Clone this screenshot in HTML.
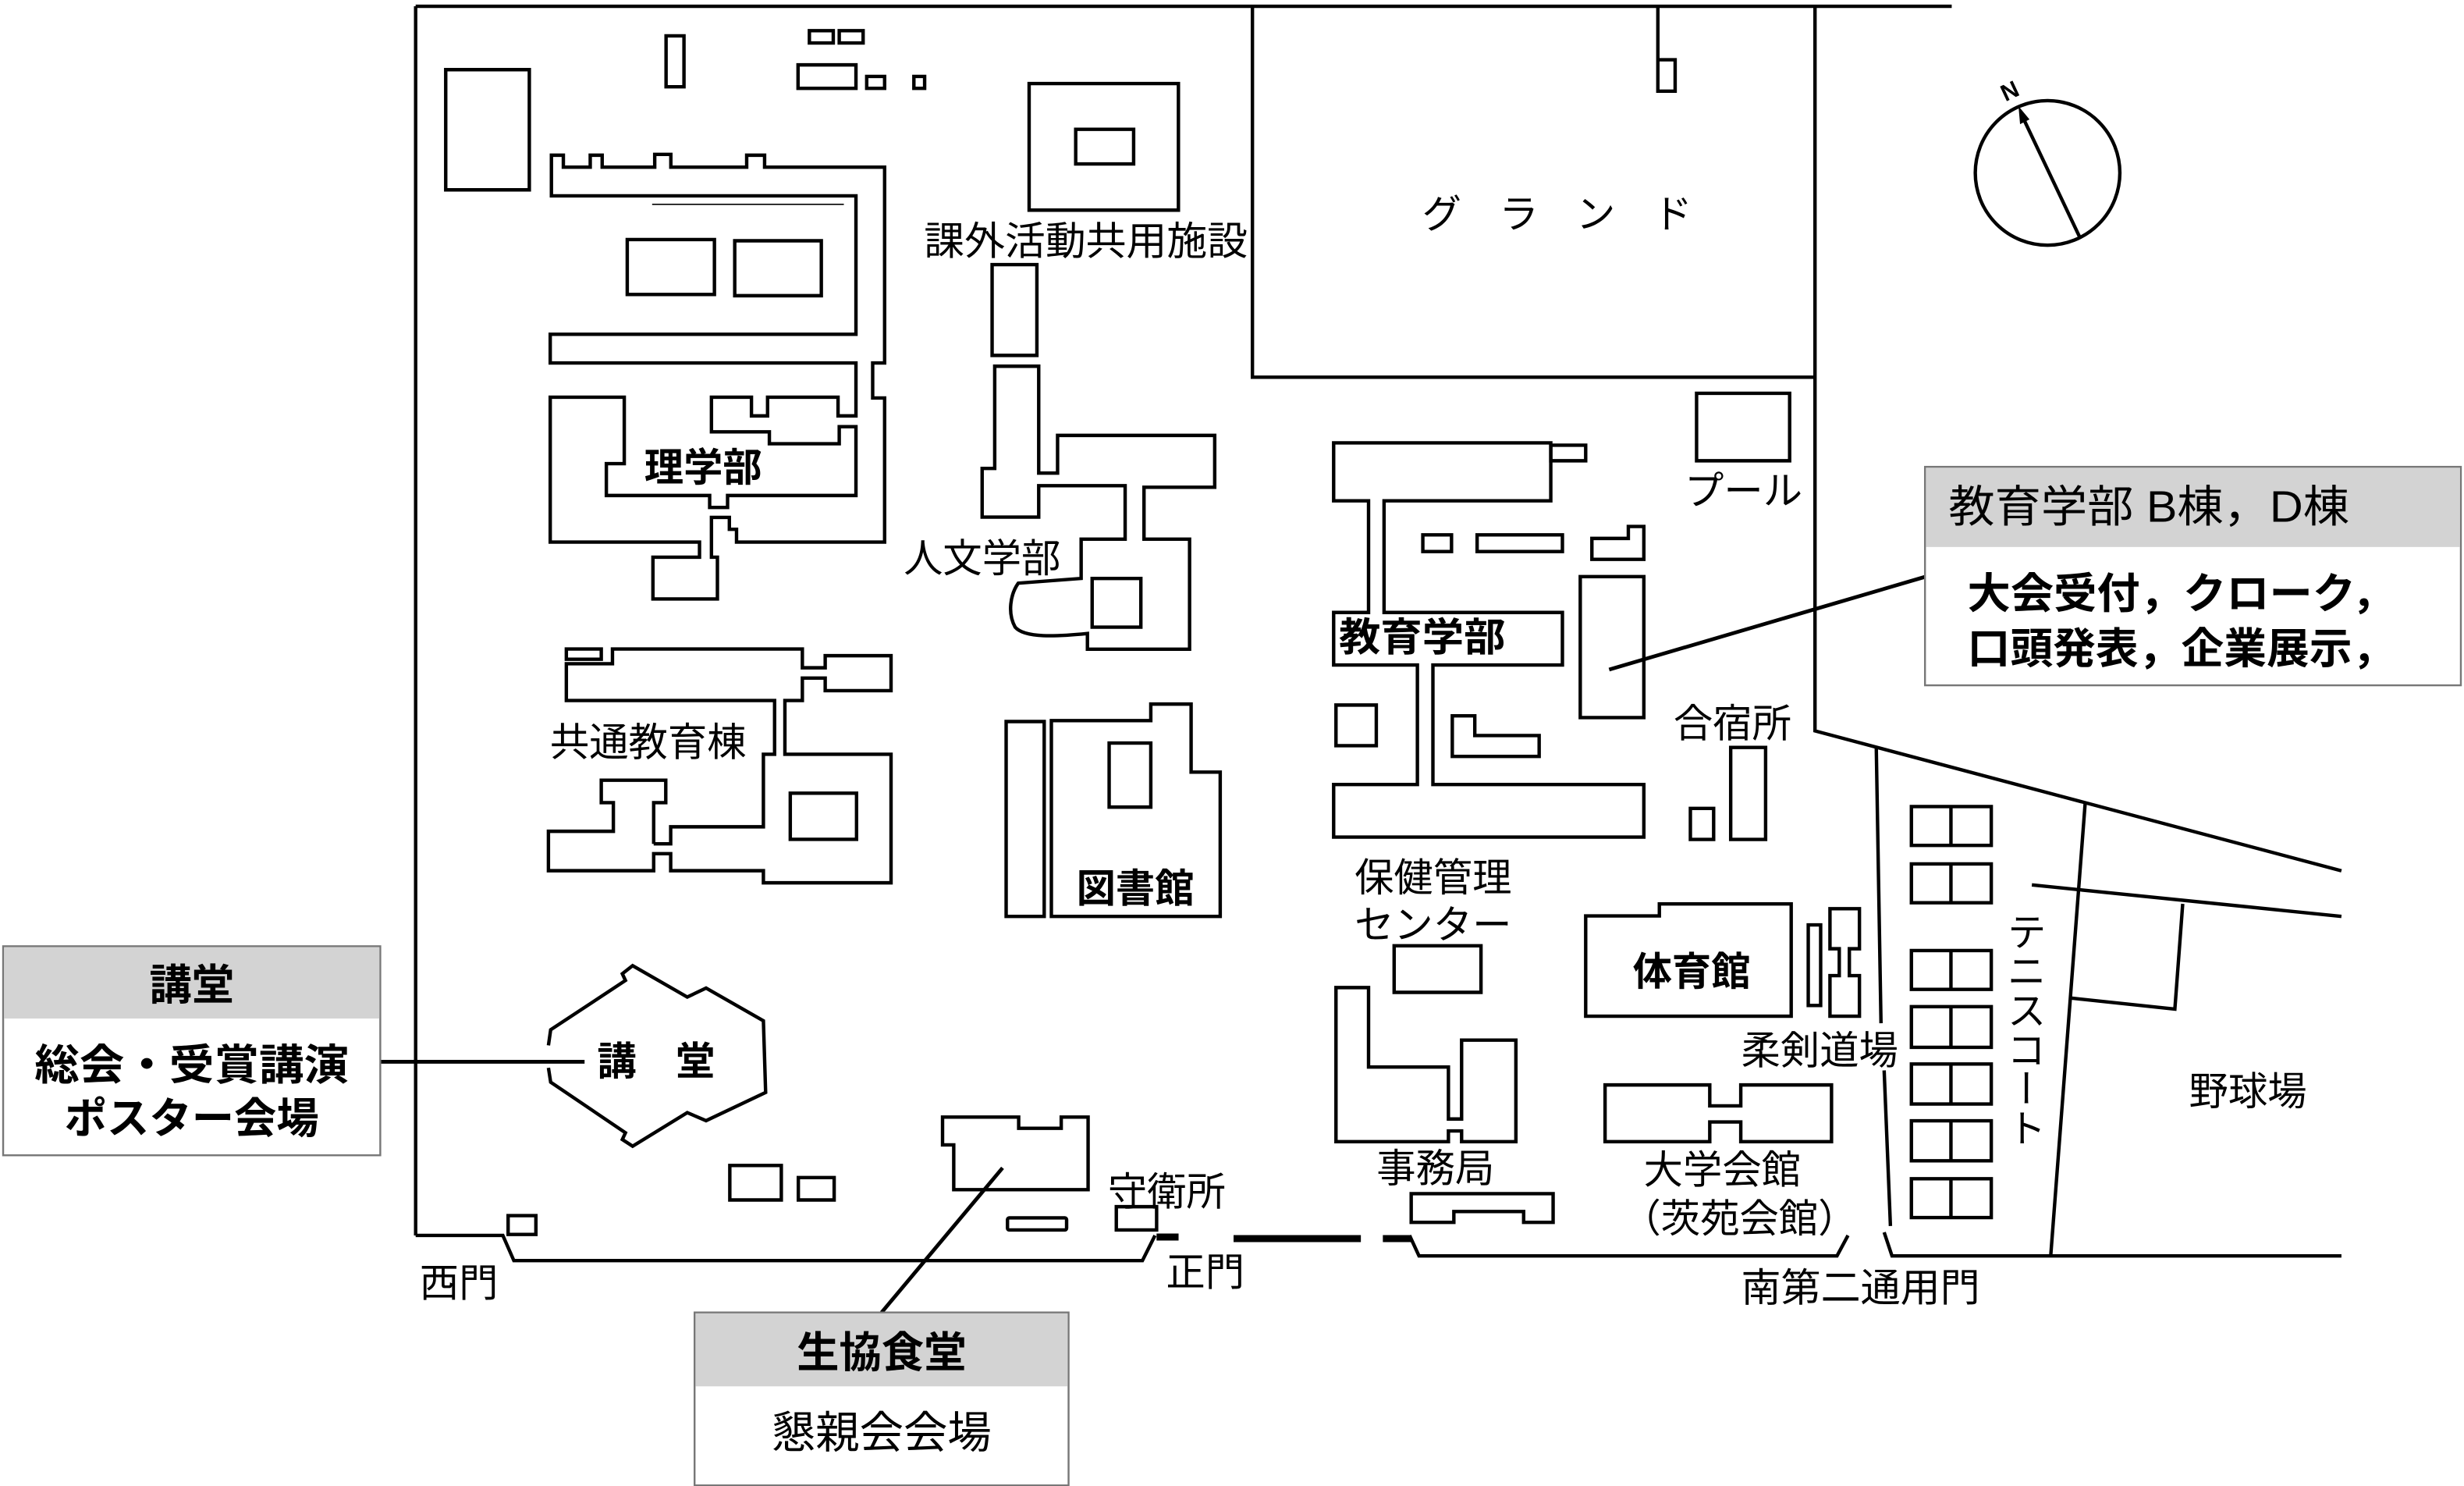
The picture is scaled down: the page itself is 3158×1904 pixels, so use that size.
<!DOCTYPE html>
<html><head><meta charset="utf-8"><style>
html,body{margin:0;padding:0;background:#fff;}
svg{display:block;}
text{font-family:"Liberation Sans","Noto Sans CJK JP",sans-serif;fill:#000;}
.b path,.b rect,.b line,.b polyline,.b polygon,.b circle{fill:none;stroke:#000;stroke-width:4.4;vector-effect:non-scaling-stroke;stroke-linejoin:miter;}
</style></head><body>
<svg width="3158" height="1904" viewBox="0 0 1568 945.4" preserveAspectRatio="none" xmlns="http://www.w3.org/2000/svg">
<rect x="0" y="0" width="1568" height="946" fill="#fff"/>
<g class="b">
<path d="M264.5,4 V786"/>
<path d="M264.5,4 H1242"/>
<path d="M797,4 V240 H1155"/>
<path d="M1155,4 V465 L1490,554"/>
<path d="M1293,563 L1490,583"/>
<path d="M1194,476 L1197,651 M1199,681 L1203,780"/>
<path d="M1327,510 L1305,799"/>
<path d="M1389,575 L1384,642 L1318,635"/>
<path d="M1199,784 L1204,799 H1490"/>
<path d="M1055,4 V58 H1066 V38 H1055"/>
<path d="M264.5,786 H320 L327,802 H727 L735,786"/>
<path d="M897,786 L903,799 H1169 L1176,786"/>
</g>
<g stroke="#000" stroke-width="4.5" fill="none">
<line x1="736" y1="787" x2="750" y2="787"/>
<line x1="785" y1="788" x2="866" y2="788"/>
<line x1="880" y1="788" x2="898" y2="788"/>
</g>

<g class="b" transform="translate(248.3,0) scale(0.38,0.2532)">
<rect x="93" y="175" width="140" height="302"/>
<rect x="462" y="90" width="30" height="128"/>
<rect x="702" y="77" width="40" height="31"/>
<rect x="752" y="77" width="40" height="31"/>
<rect x="683" y="163" width="97" height="59"/>
<rect x="798" y="192" width="30" height="30"/>
<rect x="877" y="192" width="18" height="30"/>
<rect x="1070" y="210" width="250" height="318"/>
<rect x="1148" y="325" width="97" height="87"/>
<rect x="1008" y="665" width="75" height="228"/>
<rect x="397" y="602" width="146" height="138"/>
<rect x="577" y="605" width="145" height="138"/>
<path d="M270,390 H290 V420 H335 V390 H355 V420 H443 V388 H470 V420 H597 V390 H627 V420 H828 V912 H808 V1000 H828 V1362 H580 V1330 H568 V1300 H538 V1400 H548 V1505 H440 V1400 H518 V1362 H268 V998 H392 V1165 H362 V1245 H535 V1275 H565 V1245 H780 V1072 H752 V1115 H635 V1085 H538 V998 H605 V1045 H632 V998 H750 V1045 H780 V912 H268 V840 H780 V492 H270 Z"/>
</g>
<line x1="415" y1="130" x2="537" y2="130" stroke="#000" stroke-width="0.8"/>

<g class="b">
<path d="M633,233 H661 V301 H673 V277 H773 V310 H728 V343 H757 V413 H692 V403 C672,405 652,406 646,399 C641,390 643,378 648,371 L688,368 V343 H716 V309 H661 V329 H625 V298 H633 Z"/>
<rect x="695" y="368" width="31" height="31"/>
</g>

<g class="b" transform="translate(337.6,397.2) scale(0.285)">
<path d="M275,490 H313 V452 H520 V290 H545 V170 H80 V88 H183 V55 H607 V97 H658 V70 H805 V148 H658 V120 H607 V170 H568 V290 H805 V577 H520 V550 H313 V512 H275 V550 H40 V462 H185 V398 H158 V348 H302 V398 H275 V490"/>
<rect x="80" y="55" width="78" height="23"/>
<rect x="580" y="377" width="148" height="103"/>
<rect x="1062" y="217" width="85" height="435"/>
<path d="M1163,215 H1385 V178 H1475 V330 H1540 V652 H1163 Z"/>
<rect x="1292" y="265" width="93" height="143"/>
<path d="M40,940 L45,905 L212,795 L205,780 L228,762 L350,832 L392,812 L520,885 L525,1045 L392,1108 L350,1090 L228,1165 L205,1150 L212,1135 L45,1022 L40,990"/>
<path d="M920,1100 H1090 V1125 H1185 V1100 H1245 V1262 H945 V1162 H920 Z"/>
<rect x="1308" y="1300" width="90" height="52"/>
<rect x="1065" y="1325" width="132" height="27" rx="4"/>
<rect x="445" y="1208" width="115" height="77"/>
<rect x="598" y="1235" width="80" height="50"/>
<rect x="-50" y="1320" width="62" height="42"/>
</g>

<g class="b" transform="translate(794.4,248.3) scale(0.4935,0.38)">
<rect x="578" y="5" width="120" height="113"/>
<path d="M110,88 H390 V185 H175 V372 H405 V460 H238 V660 H510 V748 H110 V660 H218 V460 H110 V372 H155 V185 H110 Z"/>
<rect x="390" y="92" width="45" height="26"/>
<rect x="225" y="242" width="37" height="28"/>
<rect x="295" y="242" width="110" height="28"/>
<path d="M443,248 H490 V228 H510 V283 H443 Z"/>
<rect x="428" y="312" width="82" height="236"/>
<rect x="113" y="527" width="52" height="68"/>
<path d="M263,545 H292 V578 H375 V613 H263 Z"/>
<rect x="622" y="598" width="45" height="154"/>
<rect x="570" y="700" width="30" height="52"/>
<path d="M435,880 H530 V860 H700 V1048 H435 Z"/>
<rect x="722" y="895" width="16" height="135"/>
<path d="M750,868 H788 V935 H775 V980 H788 V1048 H750 V980 H762 V935 H750 Z"/>
<rect x="188" y="930" width="112" height="78"/>
<path d="M113,1000 H155 V1133 H258 V1220 H275 V1088 H345 V1258 H275 V1240 H258 V1258 H113 Z"/>
<path d="M210,1345 H393 V1393 H355 V1375 H265 V1393 H210 Z"/>
<path d="M460,1163 H595 V1198 H635 V1163 H752 V1258 H635 V1225 H595 V1258 H460 Z"/>
<g>
<rect x="855" y="697" width="103" height="65"/><line x1="906" y1="697" x2="906" y2="762"/>
<rect x="855" y="793" width="103" height="65"/><line x1="906" y1="793" x2="906" y2="858"/>
<rect x="855" y="938" width="103" height="65"/><line x1="906" y1="938" x2="906" y2="1003"/>
<rect x="855" y="1032" width="103" height="68"/><line x1="906" y1="1032" x2="906" y2="1100"/>
<rect x="855" y="1128" width="103" height="67"/><line x1="906" y1="1128" x2="906" y2="1195"/>
<rect x="855" y="1223" width="103" height="67"/><line x1="906" y1="1223" x2="906" y2="1290"/>
<rect x="855" y="1320" width="103" height="65"/><line x1="906" y1="1320" x2="906" y2="1385"/>
</g>
</g>

<g class="b">
<circle cx="1303" cy="110" r="46"/>
<line x1="1286" y1="72" x2="1324" y2="152"/>
</g>
<polygon points="1284.5,67.5 1285.5,79 1291.5,76" fill="#000"/>
<text x="1279" y="63" font-size="15" font-weight="bold" transform="rotate(-25 1279 58)" text-anchor="middle">N</text>

<g font-size="25">
<text x="588" y="162" textLength="206" lengthAdjust="spacingAndGlyphs">課外活動共用施設</text>
<text x="905" y="145" letter-spacing="24">グランド</text>
<text x="410" y="306" font-weight="bold">理学部</text>
<text x="575" y="364">人文学部</text>
<text x="350" y="481">共通教育棟</text>
<text x="685" y="574" font-weight="bold">図書館</text>
<text x="1072" y="321">プール</text>
<text x="852" y="414" font-weight="bold" textLength="106" lengthAdjust="spacingAndGlyphs">教育学部</text>
<text x="1065" y="469">合宿所</text>
<text x="862" y="567">保健管理</text>
<text x="862" y="597">センター</text>
<text x="1039" y="627" font-weight="bold">体育館</text>
<text x="1108" y="677">柔剣道場</text>
<text x="876" y="752">事務局</text>
<text x="1046" y="753">大学会館</text>
<text x="1032" y="784">（茨苑会館）</text>
<text x="1108" y="828" textLength="152" lengthAdjust="spacingAndGlyphs">南第二通用門</text>
<text x="1393" y="703">野球場</text>
<text x="380" y="684" font-weight="bold" letter-spacing="25">講堂</text>
<text x="705" y="767">守衛所</text>
<text x="267" y="825">西門</text>
<text x="742" y="818">正門</text>
<text x="1288" y="580" style="writing-mode:vertical-rl" letter-spacing="0">テニスコート</text>
</g>

<g stroke="#000" stroke-width="2.4">
<line x1="242" y1="675.5" x2="372" y2="675.5"/>
<line x1="638" y1="743" x2="561" y2="835"/>
<line x1="1225" y1="367" x2="1024" y2="426"/>
</g>

<g>
<rect x="2" y="602" width="240" height="133" fill="#fff" stroke="#777" stroke-width="1.2"/>
<rect x="2.6" y="602.6" width="238.8" height="45.4" fill="#d3d3d3"/>
<text x="122" y="636" font-size="27" font-weight="bold" text-anchor="middle">講堂</text>
<text x="122" y="687" font-size="27" font-weight="bold" text-anchor="middle" textLength="200" lengthAdjust="spacingAndGlyphs">総会・受賞講演</text>
<text x="122" y="721" font-size="27" font-weight="bold" text-anchor="middle">ポスター会場</text>

<rect x="442" y="835" width="238" height="110" fill="#fff" stroke="#777" stroke-width="1.2"/>
<rect x="442.6" y="835.6" width="236.8" height="46.4" fill="#d3d3d3"/>
<text x="561" y="870" font-size="27" font-weight="bold" text-anchor="middle">生協食堂</text>
<text x="561" y="921" font-size="28" text-anchor="middle">懇親会会場</text>

<rect x="1225" y="297" width="341" height="139" fill="#fff" stroke="#777" stroke-width="1.2"/>
<rect x="1225.6" y="297.6" width="339.8" height="50.4" fill="#d3d3d3"/>
<text x="1240" y="332" font-size="28" textLength="255" lengthAdjust="spacingAndGlyphs">教育学部 B棟，D棟</text>
<text x="1252" y="387" font-size="27" font-weight="bold" textLength="272" lengthAdjust="spacingAndGlyphs">大会受付，クローク，</text>
<text x="1252" y="422" font-size="27" font-weight="bold" textLength="272" lengthAdjust="spacingAndGlyphs">口頭発表，企業展示，</text>
</g>
</svg>
</body></html>
